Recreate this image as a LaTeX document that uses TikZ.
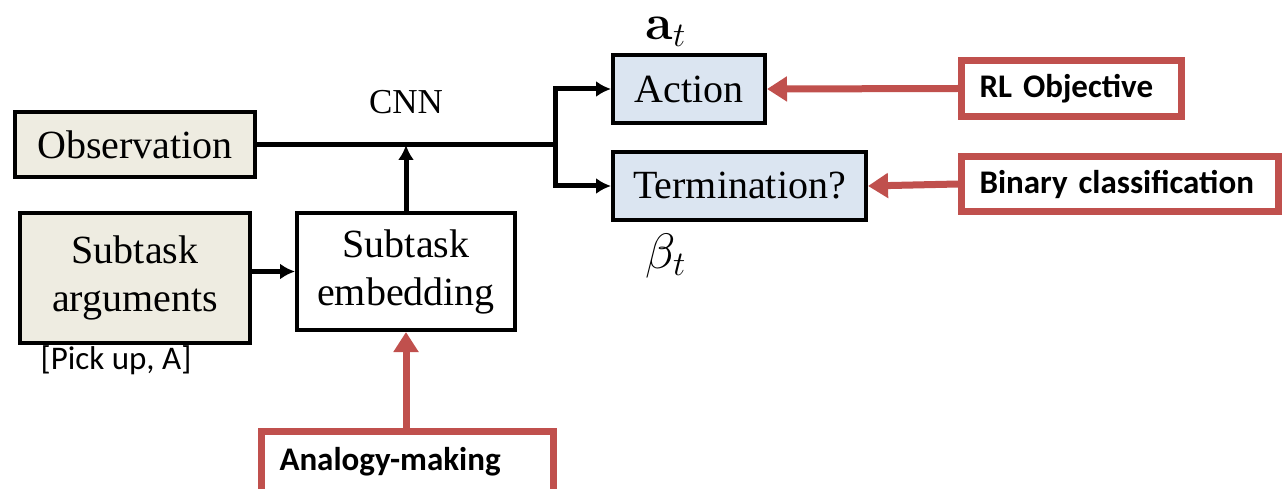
\documentclass[tikz,border=0pt]{standalone}
\usepackage[no-math]{fontspec}
\setmainfont{Liberation Serif}
\newfontfamily\calibri{Carlito}
\usetikzlibrary{calc,positioning,arrows.meta}

\definecolor{boxBeige}{HTML}{EEECE1}
\definecolor{boxBlue}{HTML}{DBE5F1}
\definecolor{lossRed}{HTML}{C0504D}

\begin{document}
\begin{tikzpicture}[>={Latex[length=7.5pt,width=8pt]}, x=1pt, y=1pt]

  \tikzstyle{block} = [draw, line width=2pt, rectangle, inner sep=0pt, align=center, font={\fontsize{20}{24}\selectfont}]
  \tikzstyle{inputBlock} = [block, fill=boxBeige]
  \tikzstyle{outputBlock} = [block, fill=boxBlue, minimum height=34pt]
  \tikzstyle{symbol} = [inner sep=0pt, font={\fontsize{24}{26}\selectfont}]
  \tikzstyle{loss} = [draw=lossRed, line width=3.5pt, fill=white, rectangle, inner xsep=9pt, inner ysep=0pt, align=left, font={\calibri\bfseries\fontsize{16.5}{18}\selectfont}]
  \tikzstyle{flowPortion} = [black, line width=2.5pt];
  \tikzstyle{flow} = [flowPortion,->];
  \tikzstyle{lossFlow} = [lossRed, line width=3.5pt, -{Triangle[width=12pt,length=10pt]}];

  \useasboundingbox (0,0) rectangle (642,244);

  % inputs and the embedding
  \node[inputBlock, name=observation, minimum width=120pt, minimum height=32.5pt] at (67.5,171.5) {Observation};
  \node[inputBlock, name=arguments, minimum width=115pt, minimum height=65pt] at (67.5,105) {Subtask\\arguments};
  \node[name=pickup, font={\calibri\fontsize{16.5}{18}\selectfont}] at (58,64) {[Pick up, A]};
  \node[block, name=embedding, minimum width=109pt, minimum height=58.5pt] at (203,108.25) {Subtask\\embedding};

  % outputs
  \node[outputBlock, name=action, minimum width=76pt] at (344.5,199.5) {Action};
  \node[outputBlock, name=termination, minimum width=126.5pt] at (369.75,151) {Termination?};
  \node[symbol, name=actionSym] at (333,228) {$\mathbf{a}_t$};
  \node[symbol, name=terminationSym] at (333,116) {$\beta_t$};

  % training signals
  \node[loss, name=rl, minimum width=110pt, minimum height=28pt, text width=92pt] at (535.75,199.75) {RL Objective};
  \node[loss, name=binary, minimum width=158.5pt, minimum height=27.5pt, text width=140.5pt] at (560,152) {Binary classification};
  \node[loss, name=analogy, minimum width=146pt, minimum height=30.5pt, text width=128pt] at (203.75,13) {Analogy-making};

  % CNN: observation merged with the subtask embedding
  \coordinate (merge) at (embedding.north |- observation.east);
  \coordinate (split) at ($(action.west |- observation.east) + (-28pt,0)$);
  \node[name=cnn, font={\fontsize{17.5}{18}\selectfont}] at ($(merge) + (0,21.5pt)$) {CNN};

  \draw[flowPortion] (observation.east) -- (split);
  \draw[flow] (embedding.north) -- (merge);
  \draw[flow] (arguments.east |- embedding.west) -- (embedding.west);

  % split into the two heads
  \draw[flow] (split) |- (action.west);
  \draw[flow] (split) |- (termination.west);

  % losses
  \draw[lossFlow] (rl.west) -- (action.east);
  \draw[lossFlow] (binary.west) -- (termination.east);
  \draw[lossFlow] (analogy.north -| embedding.south) -- (embedding.south);

\end{tikzpicture}
\end{document}
